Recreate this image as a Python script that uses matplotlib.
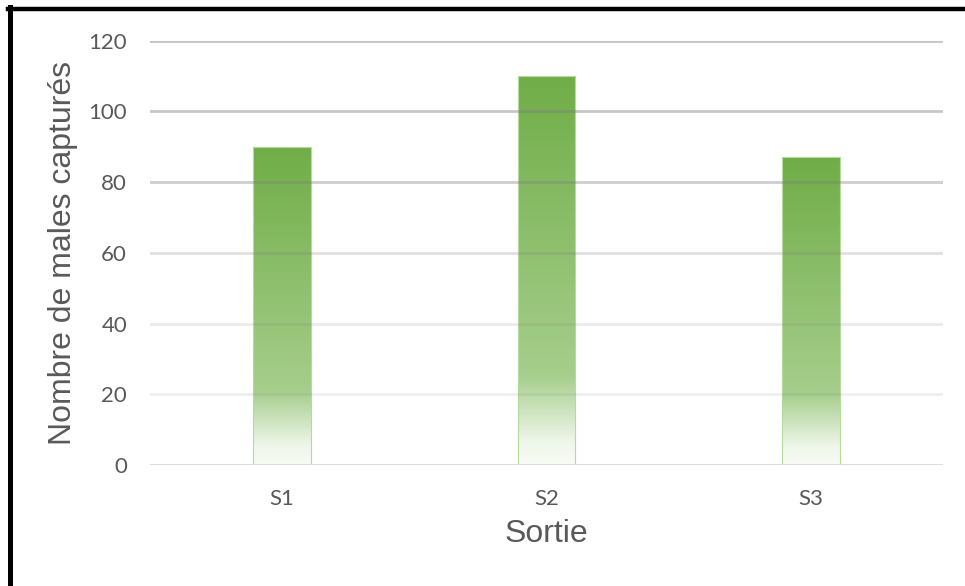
import numpy as np
import matplotlib
matplotlib.use("Agg")
import matplotlib.pyplot as plt
from matplotlib.colors import LinearSegmentedColormap
from matplotlib.lines import Line2D

# Data
categories = ["S1", "S2", "S3"]
values = [90, 110, 87]
yticks = [0, 20, 40, 60, 80, 100, 120]

# Gridline strength fades toward the bottom of the plot
grid_alpha = {20: 0.12, 40: 0.15, 60: 0.24, 80: 0.38, 100: 0.43, 120: 0.46}

fig = plt.figure(figsize=(9.65, 5.86), dpi=100)
ax = fig.add_axes([150 / 965, 1 - 465 / 586, (943 - 150) / 965, (465 - 40.7) / 586])

ax.set_xlim(-0.5, 2.5)
ax.set_ylim(0, 120)

# Vertical green fade: strong at the top, white at the base
fade = LinearSegmentedColormap.from_list(
    "fade",
    [(0.0, "#f8fbf5"), (0.06, "#eef6e9"), (0.23, "#a6ce8c"), (1.0, "#70ad47")],
)
grad = np.linspace(0, 1, 256).reshape(-1, 1)

x = np.arange(len(categories))
width = 0.217
bars = ax.bar(x, values, width=width, color="none", edgecolor="none", zorder=2)
for rect, v in zip(bars, values):
    x0 = rect.get_x()
    img = ax.imshow(grad, cmap=fade, origin="lower", aspect="auto",
                    extent=[x0, x0 + rect.get_width(), 0, v], zorder=2,
                    interpolation="bilinear")
    img.set_clip_path(rect)
    ax.add_patch(plt.Rectangle((x0, 0), rect.get_width(), v, fill=False,
                               edgecolor="#b5d99e", linewidth=0.8, zorder=2.5))

for t in yticks[1:]:
    ax.axhline(t, color="#7f7f7f", alpha=grid_alpha[t], linewidth=2.0, zorder=3)
ax.axhline(0, color="#d9d9d9", linewidth=2.0, zorder=3)

for s in ax.spines.values():
    s.set_visible(False)

ax.set_xticks(x)
ax.set_xticklabels(categories)
ax.set_yticks(yticks)
ax.tick_params(axis="both", length=0, colors="#595959", labelsize=16)
ax.tick_params(axis="y", pad=16.5)
ax.tick_params(axis="x", pad=17)
for lab in ax.get_xticklabels() + ax.get_yticklabels():
    lab.set_fontfamily(["Lato", "DejaVu Sans"])

ax.set_ylabel("Nombre de males capturés", fontsize=23, color="#595959",
              fontfamily="Liberation Sans", va="center", ha="center")
ax.yaxis.set_label_coords(-0.1097, 0.5)
ax.set_xlabel("Sortie", fontsize=23, color="#595959",
              fontfamily="Liberation Sans", va="top", ha="center")
ax.xaxis.set_label_coords(0.5, -0.127)

# Black frame along the top and left edges
fig.add_artist(Line2D([7.5 / 965, 1], [1 - 9 / 586, 1 - 9 / 586],
                      transform=fig.transFigure, color="black", linewidth=3.2))
fig.add_artist(Line2D([9.5 / 965, 9.5 / 965], [0, 1 - 7 / 586],
                      transform=fig.transFigure, color="black", linewidth=3.6))

fig.savefig("out.png", dpi=100, facecolor="white")
